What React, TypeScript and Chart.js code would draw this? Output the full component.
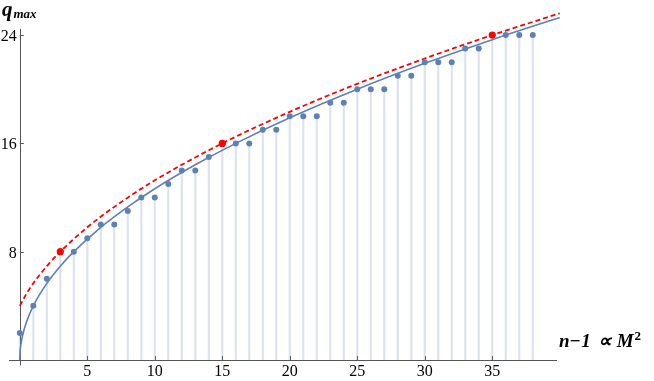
import React, { useEffect, useRef } from "react";
import { Chart, registerables } from "chart.js";

Chart.register(...registerables);

// n - 1 values (category positions)
const nValues = [0,1,2,3,4,5,6,7,8,9,10,11,12,13,14,15,16,17,18,19,20,21,22,23,24,25,26,27,28,29,30,31,32,33,34,35,36,37,38];
// q_max values
const qMax = [2,4,6,8,8,9,10,10,11,12,12,13,14,14,15,16,16,16,17,17,18,18,18,19,19,20,20,20,21,21,22,22,22,23,23,24,24,24,24];
// highlighted (red) points
const redX = [3, 15, 35];
const redY = [8, 16, 24];
// solid blue fit curve
const fitX = [0, 0.02, 0.08, 0.2, 0.5, 1, 2, 3, 4, 6, 8, 10, 13, 16, 20, 25, 30, 35, 40];
const fitY = [0, 0.57, 1.13, 1.79, 2.83, 4, 5.66, 6.93, 8, 9.8, 11.31, 12.65, 14.42, 16, 17.89, 20, 21.91, 23.66, 25.3];
// dashed red bound curve
const boundX = [0, 0.5, 1, 2, 3, 5, 7, 10, 15, 20, 25, 30, 35, 40];
const boundY = [4, 4.9, 5.66, 6.93, 8, 9.8, 11.31, 13.27, 16, 18.33, 20.4, 22.27, 24, 25.61];
// tick labels
const xTicks = [5, 10, 15, 20, 25, 30, 35];
const yTicks = [8, 16, 24];

const BLUE = "#5E81B5";
const RED = "#FF0000";
const AXIS = "#555555";

const axesPlugin = {
  id: "mmaAxes",
  beforeDatasetsDraw(chart: any) {
    const { ctx, scales } = chart;
    const xs = scales.x;
    const ys = scales.y;
    const x0 = xs.getPixelForValue(0);
    const y0 = ys.getPixelForValue(0);
    ctx.save();
    ctx.strokeStyle = AXIS;
    ctx.lineWidth = 1;
    // x axis
    ctx.beginPath();
    ctx.moveTo(xs.getPixelForValue(-0.8), Math.round(y0) + 0.5);
    ctx.lineTo(xs.getPixelForValue(39.8), Math.round(y0) + 0.5);
    ctx.stroke();
    // y axis
    ctx.beginPath();
    ctx.moveTo(Math.round(x0) + 0.5, ys.getPixelForValue(-0.4));
    ctx.lineTo(Math.round(x0) + 0.5, ys.getPixelForValue(24.45));
    ctx.stroke();
    // ticks
    ctx.beginPath();
    for (const t of xTicks) {
      const p = Math.round(xs.getPixelForValue(t)) + 0.5;
      ctx.moveTo(p, y0);
      ctx.lineTo(p, y0 - 4);
    }
    for (const t of yTicks) {
      const p = Math.round(ys.getPixelForValue(t)) + 0.5;
      ctx.moveTo(x0, p);
      ctx.lineTo(x0 + 4, p);
    }
    ctx.stroke();
    // tick labels
    ctx.fillStyle = "#000";
    ctx.font = "16px 'Liberation Serif', serif";
    ctx.textAlign = "center";
    ctx.textBaseline = "alphabetic";
    for (const t of xTicks) {
      ctx.fillText(String(t), xs.getPixelForValue(t), y0 + 16);
    }
    ctx.textAlign = "right";
    for (const t of yTicks) {
      ctx.fillText(String(t), x0 - 3, ys.getPixelForValue(t) + 6);
    }
    // y title: q_max
    ctx.textAlign = "left";
    ctx.font = "bold italic 21px 'Liberation Serif', serif";
    ctx.fillText("q", 2, 16);
    const qw = ctx.measureText("q").width;
    ctx.font = "bold italic 13px 'Liberation Serif', serif";
    ctx.fillText("max", 2 + qw + 1, 18);
    // x title: n-1 ∝ M^2
    const xt = xs.getPixelForValue(39.8) + 2;
    const by = y0 - 13;
    ctx.font = "bold italic 19px 'Liberation Serif', serif";
    ctx.fillText("n\u22121", xt, by);
    let cx = xt + ctx.measureText("n\u22121").width + 7;
    ctx.fillText("\u221D", cx, by);
    cx += ctx.measureText("\u221D").width + 5;
    ctx.fillText("M", cx, by);
    cx += ctx.measureText("M").width + 1;
    ctx.font = "bold 13px 'Liberation Serif', serif";
    ctx.fillText("2", cx, by - 7);
    ctx.restore();
  },
};

export default function App() {
  const ref = useRef<HTMLCanvasElement | null>(null);
  useEffect(() => {
    document.body.style.margin = "0";
    const canvas = ref.current;
    if (!canvas) return;
    const chart = new Chart(canvas, {
      type: "scatter",
      data: {
        datasets: [
          {
            type: "scatter",
            data: redX.map((x, i) => ({ x, y: redY[i] })),
            backgroundColor: RED,
            borderColor: RED,
            pointRadius: 3.6,
            pointBorderWidth: 0,
          },
          {
            type: "scatter",
            data: nValues.map((x, i) => ({ x, y: qMax[i] })),
            backgroundColor: BLUE,
            borderColor: BLUE,
            pointRadius: 3,
            pointBorderWidth: 0,
          },
          {
            type: "line",
            data: boundX.map((x, i) => ({ x, y: boundY[i] })),
            borderColor: RED,
            borderWidth: 1.8,
            borderDash: [5, 3],
            pointRadius: 0,
            cubicInterpolationMode: "monotone",
            fill: false,
          },
          {
            type: "line",
            data: fitX.map((x, i) => ({ x, y: fitY[i] })),
            borderColor: BLUE,
            borderWidth: 1.6,
            pointRadius: 0,
            cubicInterpolationMode: "monotone",
            fill: false,
          },
          {
            type: "bar",
            data: nValues.map((x, i) => ({ x, y: qMax[i] })),
            backgroundColor: "rgba(94,129,181,0.22)",
            barThickness: 1.5,
            borderWidth: 0,
          } as any,
        ],
      },
      options: {
        animation: false,
        responsive: false,
        events: [],
        layout: { padding: { left: 9, right: 87.5, top: 8, bottom: 15.6 } },
        plugins: {
          legend: { display: false },
          tooltip: { enabled: false },
          title: { display: false },
        },
        scales: {
          x: { type: "linear", min: -0.8, max: 40.5, display: false, offset: false },
          y: { type: "linear", min: -0.4, max: 26, display: false },
        },
      },
      plugins: [axesPlugin],
    } as any);
    return () => chart.destroy();
  }, []);
  return (
    <div style={{ width: 654, height: 381 }}>
      <canvas ref={ref} width={654} height={381} style={{ display: "block" }} />
    </div>
  );
}
